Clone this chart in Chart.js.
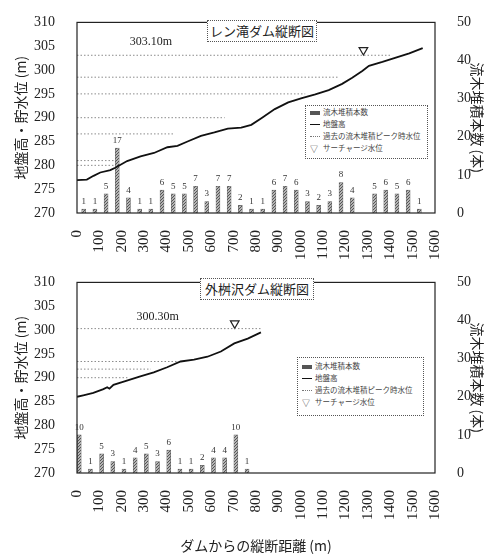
<!DOCTYPE html>
<html>
<head>
<meta charset="utf-8">
<script src="https://cdn.jsdelivr.net/npm/chart.js@4/dist/chart.umd.min.js"></script>
<style>
  body { margin:0; background:#fff; width:494px; height:554px; position:relative; overflow:hidden; }
  .wrap { position:absolute; left:0; width:494px; }
  .ttl { position:absolute; border:1px dotted #555; background:#fff; font:13px "Noto Sans CJK JP"; color:#222;
         text-align:center; line-height:19px; white-space:nowrap; }
  .lg { position:absolute; border:1px dotted #555; background:#fff; font:7.5px "Noto Sans CJK JP"; color:#444; }
  .lg div { height:12px; line-height:12px; padding-left:4px; white-space:nowrap; }
  .sw { display:inline-block; width:10px; margin-right:3px; vertical-align:middle; }
</style>
</head>
<body>
<div class="wrap" style="top:0;height:260px"><canvas id="c1"></canvas></div>
<div class="wrap" style="top:260px;height:294px"><canvas id="c2"></canvas></div>

<div class="ttl" style="left:207px;top:20px;width:108px;height:20px">レン滝ダム縦断図</div>
<div class="ttl" style="left:200px;top:278px;width:112px;height:20px">外桝沢ダム縦断図</div>

<div class="lg" style="left:305px;top:105px;width:121px;height:52px">
  <div><span class="sw" style="height:4px;background:#555"></span>流木堆積本数</div>
  <div><span class="sw" style="height:0;border-top:1.5px solid #111"></span>地盤高</div>
  <div><span class="sw" style="height:0;border-top:1px dotted #777"></span>過去の流木堆積ピーク時水位</div>
  <div><span class="sw" style="font-size:8px;line-height:8px;height:8px">▽</span>サーチャージ水位</div>
</div>
<div class="lg" style="left:297px;top:357px;width:125px;height:57px">
  <div style="margin-top:2px"><span class="sw" style="height:4px;background:#555"></span>流木堆積本数</div>
  <div><span class="sw" style="height:0;border-top:1.5px solid #111"></span>地盤高</div>
  <div><span class="sw" style="height:0;border-top:1px dotted #777"></span>過去の流木堆積ピーク時水位</div>
  <div><span class="sw" style="font-size:8px;line-height:8px;height:8px">▽</span>サーチャージ水位</div>
</div>

<script>
// レン滝ダム
var renGroundX = [0, 44, 74, 104, 149, 171, 224, 284, 344, 404, 449, 494, 554, 614, 674, 734, 779, 824, 884, 944, 1005, 1065, 1125, 1185, 1230, 1275, 1305, 1365, 1425, 1485, 1545];
var renGroundY = [276.9, 277.0, 277.8, 278.5, 279.0, 279.5, 280.9, 281.9, 282.6, 283.8, 284.1, 285.0, 286.2, 286.9, 287.7, 287.9, 288.5, 289.9, 291.8, 293.2, 294.1, 294.9, 295.8, 297.1, 298.4, 299.8, 300.9, 301.7, 302.6, 303.5, 304.6];
var renBarX = [30, 80, 130, 180, 230, 280, 330, 380, 430, 480, 530, 580, 630, 680, 730, 780, 830, 880, 930, 980, 1030, 1080, 1130, 1180, 1230, 1330, 1380, 1430, 1480, 1530];
var renBarN = [1, 1, 5, 17, 4, 1, 1, 6, 5, 5, 7, 3, 7, 7, 2, 1, 1, 6, 7, 6, 3, 2, 3, 8, 4, 5, 6, 5, 6, 1];
var renPeakLv = [303.1, 298.5, 295.0, 290.0, 286.6, 281.0, 280.0];
var renPeakEnd = [1400, 1170, 1020, 660, 435, 171, 165];
var renSurcharge = {x: 1280, y: 304.2, label: '303.10m', lx: 330, ly: 304.6};

// 外桝沢ダム
var sotoGroundX = [0, 28, 73, 118, 135, 145, 163, 223, 283, 343, 403, 463, 523, 583, 643, 703, 763, 822];
var sotoGroundY = [286.0, 286.3, 286.8, 287.6, 288.0, 287.7, 288.5, 289.4, 290.3, 291.1, 292.2, 293.4, 293.8, 294.4, 295.5, 297.2, 298.2, 299.5];
var sotoBarX = [10, 60, 110, 160, 210, 260, 310, 360, 410, 460, 510, 560, 610, 660, 710, 760];
var sotoBarN = [10, 1, 5, 3, 1, 4, 5, 3, 6, 1, 1, 2, 4, 4, 10, 1];
var sotoPeakLv = [300.3, 293.4, 291.8, 290.0];
var sotoPeakEnd = [822, 450, 330, 225];
var sotoSurcharge = {x: 705, y: 301.4, label: '300.30m', lx: 360, ly: 301.6};

var SERIF = '"Liberation Serif", "DejaVu Serif", serif';
var JP = '"Noto Sans CJK JP", sans-serif';

function makePattern() {
	var c = document.createElement('canvas');
	c.width = 3; c.height = 3;
	var g = c.getContext('2d');
	g.fillStyle = '#b4b4b4'; g.fillRect(0, 0, 3, 3);
	g.fillStyle = '#555'; g.fillRect(0, 0, 1, 1); g.fillRect(2, 1, 1, 1); g.fillRect(1, 2, 1, 1);
	return g.createPattern(c, 'repeat');
}

var extras = {
	id: 'extras',
	afterDatasetsDraw: function(chart, args, o) {
		var ctx = chart.ctx, a = chart.chartArea;
		ctx.save();
		ctx.strokeStyle = '#222'; ctx.lineWidth = 1.2;
		ctx.strokeRect(a.left, a.top, a.right - a.left, a.bottom - a.top);
		// bar values
		var meta = chart.getDatasetMeta(o.barIndex);
		ctx.fillStyle = '#333';
		ctx.font = '9px ' + SERIF;
		ctx.textAlign = 'center';
		ctx.textBaseline = 'bottom';
		meta.data.forEach(function(el, i) {
			ctx.fillText(String(o.values[i]), el.x, el.y - 3);
		});
		// surcharge level label
		ctx.font = '12px ' + SERIF;
		ctx.fillStyle = '#222';
		ctx.fillText(o.sur.label, chart.scales.x.getPixelForValue(o.sur.lx), chart.scales.y.getPixelForValue(o.sur.ly));
		ctx.restore();
	}
};

function makeChart(id, d) {
	var ds = [];
	ds.push({
		type: 'line', label: '地盤高',
		data: d.gx.map(function(x, i) { return {x: x, y: d.gy[i]}; }),
		borderColor: '#111', borderWidth: 1.8, pointRadius: 0, yAxisID: 'y'
	});
	d.peakLv.forEach(function(lv, i) {
		ds.push({
			type: 'line', label: '過去の流木堆積ピーク時水位',
			data: [{x: 0, y: lv}, {x: d.peakEnd[i], y: lv}],
			borderColor: '#8c8c8c', borderWidth: 1, borderDash: [1.5, 2], pointRadius: 0, yAxisID: 'y'
		});
	});
	var barIndex = ds.length;
	ds.push({
		type: 'bar', label: '流木堆積本数',
		data: d.bx.map(function(x, i) { return {x: x, y: d.bn[i]}; }),
		backgroundColor: makePattern(), borderColor: '#666', borderWidth: 0.6,
		barThickness: 4, yAxisID: 'yR'
	});
	ds.push({
		type: 'scatter', label: 'サーチャージ水位',
		data: [{x: d.sur.x, y: d.sur.y}],
		pointStyle: 'triangle', rotation: 180, pointRadius: 5,
		backgroundColor: '#fff', borderColor: '#222', borderWidth: 1.2, yAxisID: 'y'
	});

	return new Chart(document.getElementById(id), {
		type: 'bar',
		data: {datasets: ds},
		plugins: [extras],
		options: {
			responsive: true, maintainAspectRatio: false, animation: false,
			layout: {padding: {top: d.padTop, left: 0, right: 0, bottom: 0}},
			plugins: {
				legend: {display: false}, tooltip: {enabled: false},
				extras: {barIndex: barIndex, values: d.bn, sur: d.sur}
			},
			scales: {
				x: {
					type: 'linear', min: 0, max: 1600, offset: false,
					grid: {display: false}, border: {display: false},
					ticks: {stepSize: 100, minRotation: 90, maxRotation: 90, padding: 9, color: '#222',
						font: {family: SERIF, size: 15}, callback: function(v) { return String(v); }},
					title: {display: !!d.xTitle, text: d.xTitle || '', color: '#222', font: {family: JP, size: 14}, padding: {top: 0, bottom: 0}},
					afterFit: function(s) { s.height = d.xH; }
				},
				y: {
					position: 'left', min: 270, max: 310,
					grid: {display: false}, border: {display: false},
					ticks: {stepSize: 5, padding: 14, color: '#222', font: {family: SERIF, size: 14}},
					title: {display: true, text: '地盤高・貯水位 (m)', color: '#222', font: {family: JP, size: 14}, padding: {top: 12, bottom: 0}},
					afterFit: function(s) { s.width = 77; }
				},
				yR: {
					position: 'right', min: 0, max: 50,
					grid: {display: false}, border: {display: false},
					ticks: {stepSize: 5, padding: 14, color: '#222', font: {family: SERIF, size: 14}},
					title: {display: true, text: '流木堆積本数 (本)', color: '#222', font: {family: JP, size: 14}, padding: {top: 8, bottom: 0}},
					afterFit: function(s) { s.width = 59; }
				}
			}
		}
	});
}

makeChart('c1', {gx: renGroundX, gy: renGroundY, bx: renBarX, bn: renBarN, peakLv: renPeakLv, peakEnd: renPeakEnd,
	sur: renSurcharge, padTop: 13, xH: 47});
makeChart('c2', {gx: sotoGroundX, gy: sotoGroundY, bx: sotoBarX, bn: sotoBarN, peakLv: sotoPeakLv, peakEnd: sotoPeakEnd,
	sur: sotoSurcharge, padTop: 10, xH: 81, xTitle: 'ダムからの縦断距離 (m)'});
</script>
</body>
</html>
